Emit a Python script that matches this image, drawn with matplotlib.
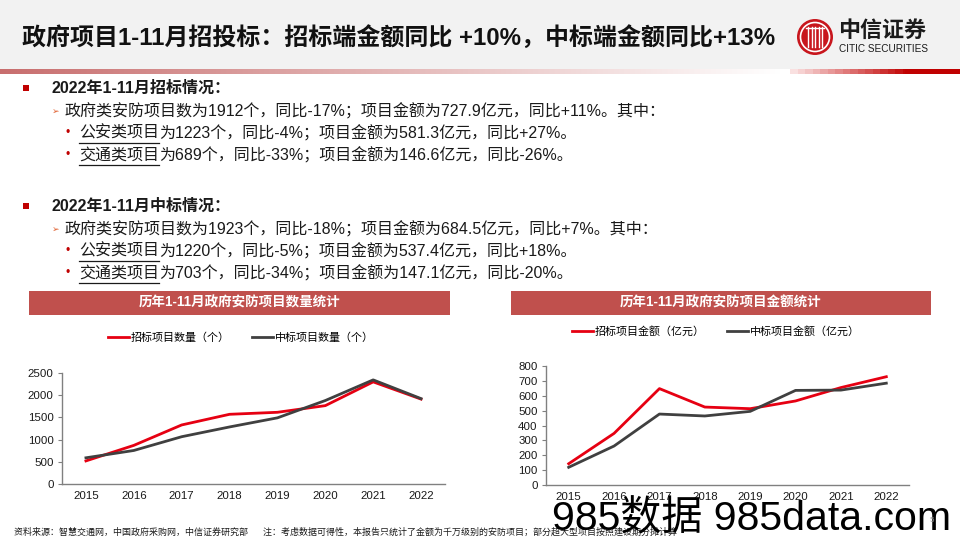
import numpy as np
import matplotlib
matplotlib.use("Agg")
import matplotlib.pyplot as plt
from matplotlib.patches import Rectangle, Circle

plt.rcParams['font.family'] = ['Liberation Sans', 'Noto Sans CJK SC', 'DejaVu Sans']

# ---------------- data ----------------
years = ['2015', '2016', '2017', '2018', '2019', '2020', '2021', '2022']
bid_count = [520, 870, 1330, 1570, 1615, 1765, 2300, 1912]
win_count = [590, 755, 1065, 1285, 1490, 1880, 2345, 1923]
bid_amount = [143, 347, 648, 524, 513, 565, 655, 727.9]
win_amount = [119, 262, 477, 464, 495, 636, 638, 684.5]

count_yticks = [0, 500, 1000, 1500, 2000, 2500]
amount_yticks = [0, 100, 200, 300, 400, 500, 600, 700, 800]

title = '政府项目1-11月招投标：招标端金额同比 +10%，中标端金额同比+13%'
chart1_title = '历年1-11月政府安防项目数量统计'
chart2_title = '历年1-11月政府安防项目金额统计'
legend1 = ['招标项目数量（个）', '中标项目数量（个）']
legend2 = ['招标项目金额（亿元）', '中标项目金额（亿元）']
footer = ('资料来源：智慧交通网，中国政府采购网，中信证券研究部      '
          '注：考虑数据可得性，本报告只统计了金额为千万级别的安防项目；部分超大型项目按照建设期分摊计算')

RED = '#E60012'
DARK = '#404040'
BOX = '#C0504D'

W, H = 960, 540
fig = plt.figure(figsize=(9.6, 5.4), dpi=100)
fig.patch.set_facecolor('white')


def fx(x):
    return x / W


def fy(y):
    return 1 - y / H


def pt(px):
    return px * 0.72


# background overlay axes for decoration
bg = fig.add_axes([0, 0, 1, 1], zorder=-1)
bg.axis('off')
bg.add_patch(Rectangle((0, 0), W, 69, color='#F2F2F2', lw=0))

# gradient bar
grad = np.ones((1, W, 3))
c0 = np.array([200, 110, 110]) / 255
for i in range(W):
    if i < 780:
        t = i / 780
        grad[0, i] = c0 * (1 - t) + np.array([1, 1, 1]) * t
    elif i < 790:
        grad[0, i] = [1, 1, 1]
    elif i < 905:
        t = np.floor((i - 790) / 7.5) * 7.5 / 115
        grad[0, i] = np.array([0.98, 0.88, 0.88]) * (1 - t) + np.array([192, 0, 0]) / 255 * t
    else:
        grad[0, i] = np.array([192, 0, 0]) / 255
bg.imshow(grad, extent=(0, W, 74, 69), aspect='auto', interpolation='nearest')
bg.set_xlim(0, W)
bg.set_ylim(H, 0)

# title
fig.text(fx(22), fy(38), title, fontsize=pt(24), fontweight='bold', va='center', ha='left', color='#111111')

# logo
bg.add_patch(Circle((815, 37), 18, color='#C8161D', lw=0))
bg.add_patch(Circle((815, 37), 14.5, fill=False, ec='white', lw=1.2))
for dx in [-7, -3.5, 0, 3.5, 7]:
    bg.plot([815 + dx, 815 + dx], [27, 47], color='white', lw=1.0)
bg.plot([806, 824], [27.5, 27.5], color='white', lw=1.0)
fig.text(fx(838), fy(31), '中信证券', fontsize=pt(22), fontweight='bold', va='center', ha='left', color='#1a1a1a')
fig.text(fx(839), fy(49), 'CITIC SECURITIES', fontsize=pt(10), va='center', ha='left', color='#1a1a1a')

# ---------------- bullet text ----------------
renderer = fig.canvas.get_renderer()
TXT = pt(16)


def line_with_underline(x, y, under, rest):
    t1 = fig.text(fx(x), fy(y), under, fontsize=TXT, va='center', ha='left', color='#1a1a1a')
    bb = t1.get_window_extent(renderer=renderer)
    x_end = bb.x1
    bg.plot([x, x_end], [y + 10, y + 10], color='#1a1a1a', lw=0.9)
    fig.text(x_end / W, fy(y), rest, fontsize=TXT, va='center', ha='left', color='#1a1a1a')


def block(y0, head, l1, l2u, l2r, l3u, l3r):
    bg.add_patch(Rectangle((23, y0 - 3), 6, 6, color='#C00000', lw=0))
    fig.text(fx(51), fy(y0), head, fontsize=TXT, fontweight='bold', va='center', ha='left', color='#1a1a1a')
    fig.text(fx(52), fy(y0 + 23), '➢', fontsize=pt(9), va='center', ha='left', color='#E06030',
             family=['DejaVu Sans'])
    fig.text(fx(65), fy(y0 + 23), l1, fontsize=TXT, va='center', ha='left', color='#1a1a1a')
    for k, (u, r) in enumerate([(l2u, l2r), (l3u, l3r)]):
        yy = y0 + 45 + 22 * k
        fig.text(fx(66), fy(yy), '•', fontsize=pt(12), va='center', ha='left', color='#C00000')
        line_with_underline(79, yy, u, r)


block(88, '2022年1-11月招标情况：',
      '政府类安防项目数为1912个，同比-17%；项目金额为727.9亿元，同比+11%。其中：',
      '公安类项目', '为1223个，同比-4%；项目金额为581.3亿元，同比+27%。',
      '交通类项目', '为689个，同比-33%；项目金额为146.6亿元，同比-26%。')
block(206, '2022年1-11月中标情况：',
      '政府类安防项目数为1923个，同比-18%；项目金额为684.5亿元，同比+7%。其中：',
      '公安类项目', '为1220个，同比-5%；项目金额为537.4亿元，同比+18%。',
      '交通类项目', '为703个，同比-34%；项目金额为147.1亿元，同比-20%。')

# chart header boxes
for (x0, x1, ttl) in [(29, 450, chart1_title), (511, 931, chart2_title)]:
    bg.add_patch(Rectangle((x0, 291), x1 - x0, 24, color=BOX, lw=0))
    fig.text(fx((x0 + x1) / 2), fy(303), ttl, fontsize=pt(13.5), fontweight='bold', color='white',
             ha='center', va='center')


# ---------------- charts ----------------
def make_chart(left, right, top, bottom, s1, s2, yt, labels, leg_center, leg_y):
    ax = fig.add_axes([fx(left), fy(bottom), (right - left) / W, (bottom - top) / H])
    x = np.arange(len(years))
    l1, = ax.plot(x, s1, color=RED, lw=2.0, label=labels[0])
    l2, = ax.plot(x, s2, color=DARK, lw=2.0, label=labels[1])
    ax.set_xlim(-0.5, len(years) - 0.5)
    ax.set_ylim(yt[0], yt[-1])
    ax.set_yticks(yt)
    ax.set_xticks(x)
    ax.set_xticklabels(years)
    for s in ['top', 'right']:
        ax.spines[s].set_visible(False)
    for s in ['left', 'bottom']:
        ax.spines[s].set_color('#808080')
        ax.spines[s].set_linewidth(1.0)
    ax.tick_params(axis='x', length=0, pad=5, labelsize=pt(11.5), colors='#1a1a1a')
    ax.tick_params(axis='y', length=3, width=0.8, color='#808080', pad=3, labelsize=pt(11.5),
                   labelcolor='#1a1a1a')
    ax.patch.set_alpha(0)
    fig.legend(handles=[l1, l2], loc='center', bbox_to_anchor=(fx(leg_center), fy(leg_y)),
               ncol=2, frameon=False, fontsize=pt(11), handlelength=1.9, handletextpad=0.2,
               columnspacing=2.0, borderaxespad=0)
    return ax


make_chart(62, 445, 373, 484, bid_count, win_count, count_yticks, legend1, 241, 338)
make_chart(546, 909, 366, 485, bid_amount, win_amount, amount_yticks, legend2, 716, 331)

# footer
fig.text(fx(14), fy(532), footer, fontsize=pt(9), va='center', ha='left', color='#1a1a1a')

# watermark
fig.text(fx(552), fy(530), '985数据 985data.com', fontsize=pt(41), va='baseline', ha='left', color='black',
         zorder=10)
fig.text(fx(930), fy(520), '5', fontsize=pt(8), va='center', ha='left', color='#999999', zorder=11)

fig.savefig('out.png', dpi=100)
